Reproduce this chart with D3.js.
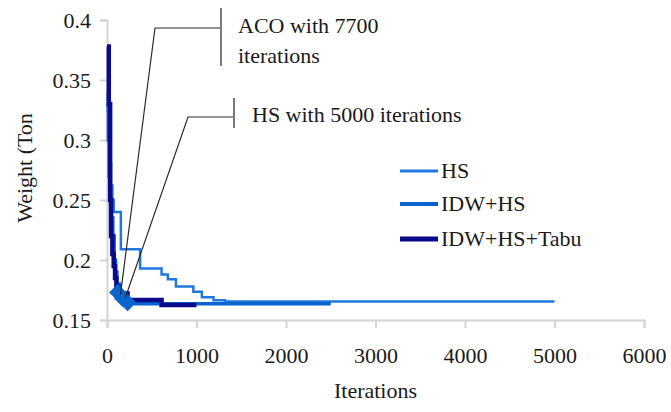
<!DOCTYPE html>
<html>
<head>
<meta charset="utf-8">
<script src="https://cdn.jsdelivr.net/npm/d3@7/dist/d3.min.js"></script>
<style>
  html, body { margin: 0; padding: 0; background: #fff; }
  svg { display: block; font-family: "Liberation Serif", "Times New Roman", serif; }
</style>
</head>
<body>
<svg id="chart" width="671" height="412"></svg>
<script>
// ---- data ----
const xTicks = [0, 1000, 2000, 3000, 4000, 5000, 6000];
const yTicks = [0.15, 0.2, 0.25, 0.3, 0.35, 0.4];
const seriesNames = ["HS", "IDW+HS", "IDW+HS+Tabu"];
const seriesColors = ["#1f78e0", "#0b63cc", "#0a0a8a"];

// [iteration, weight]
const hsData = [
  [0, 0.34], [10, 0.325], [20, 0.30], [30, 0.28], [45, 0.262], [60, 0.25],
  [75, 0.24], [155, 0.209], [370, 0.193], [610, 0.188], [680, 0.184],
  [770, 0.178], [965, 0.1735], [1060, 0.169], [1190, 0.1665], [1320, 0.1655],
  [5000, 0.1655]
];
const idwHsData = [
  [0, 0.33], [15, 0.30], [25, 0.27], [35, 0.25], [50, 0.235], [65, 0.22],
  [80, 0.20], [95, 0.19], [110, 0.18], [140, 0.172], [200, 0.1635], [2500, 0.1635]
];
const tabuData = [
  [0, 0.378], [20, 0.33], [35, 0.25], [45, 0.22], [60, 0.205], [75, 0.195],
  [90, 0.185], [105, 0.178], [125, 0.172], [230, 0.1667], [610, 0.1625], [1000, 0.1625]
];
const markerData = [[120, 0.173], [175, 0.168], [230, 0.1645]];

const annotations = [
  { lines: ["ACO with 7700", "iterations"], anchor: [150, 0.171] },
  { lines: ["HS with 5000 iterations"], anchor: [205, 0.1685] }
];

// ---- layout ----
const svg = d3.select("#chart");
const x = d3.scaleLinear().domain([0, 6000]).range([107, 644]);
const y = d3.scaleLinear().domain([0.15, 0.4]).range([320, 20]);
const axisColor = "#d4d4d4";
const fontSize = 22;

// axes
const gx = svg.append("g").attr("transform", `translate(0,${y(0.15)})`)
  .call(d3.axisBottom(x).tickValues(xTicks).tickSize(8).tickPadding(19).tickFormat(d3.format("d")));
const gy = svg.append("g").attr("transform", `translate(${x(0)},0)`)
  .call(d3.axisLeft(y).tickValues(yTicks).tickSize(7).tickPadding(9).tickFormat(d => String(+d.toFixed(2))));
[gx, gy].forEach(g => {
  g.select(".domain").attr("stroke", axisColor).attr("stroke-width", 2);
  g.selectAll(".tick line").attr("stroke", axisColor).attr("stroke-width", 2);
  g.selectAll(".tick text").attr("fill", "#1a1a1a").style("font-size", fontSize + "px")
    .style("font-family", "'Liberation Serif', serif");
});

// axis titles
svg.append("text").attr("x", (x(0) + x(6000)) / 2).attr("y", 398)
  .attr("text-anchor", "middle").attr("fill", "#1a1a1a").style("font-size", fontSize + "px")
  .text("Iterations");
svg.append("text").attr("transform", `translate(32,${168}) rotate(-90)`)
  .attr("text-anchor", "middle").attr("fill", "#1a1a1a").style("font-size", fontSize + "px")
  .text("Weight (Ton");

// lines
const line = d3.line().x(d => x(d[0])).y(d => y(d[1])).curve(d3.curveStepAfter);
const allSeries = [hsData, idwHsData, tabuData];
const widths = [2.5, 3.5, 4.5];
allSeries.forEach((data, i) => {
  svg.append("path").datum(data).attr("d", line)
    .attr("fill", "none").attr("stroke", seriesColors[i])
    .attr("stroke-width", widths[i]).attr("stroke-linejoin", "miter");
});

// diamond markers
svg.selectAll(".mk").data(markerData).enter().append("path")
  .attr("transform", d => `translate(${x(d[0])},${y(d[1])})`)
  .attr("d", d3.symbol(d3.symbolDiamond2, 190))
  .attr("fill", seriesColors[1]);

// annotations (callouts)
const callouts = [
  { elbow: [155, 28], bar: [221, 8, 66], text: [238, 33], lh: 30 },
  { elbow: [188, 117], bar: [234, 98, 128], text: [252, 122], lh: 30 }
];
annotations.forEach((a, i) => {
  const c = callouts[i];
  const ax = x(a.anchor[0]), ay = y(a.anchor[1]);
  svg.append("path")
    .attr("d", `M${ax},${ay}L${c.elbow[0]},${c.elbow[1]}L${c.bar[0]},${c.elbow[1]}`)
    .attr("fill", "none").attr("stroke", "#2a2a2a").attr("stroke-width", 1.2);
  svg.append("line").attr("x1", c.bar[0]).attr("x2", c.bar[0]).attr("y1", c.bar[1]).attr("y2", c.bar[2])
    .attr("stroke", "#7a7a7a").attr("stroke-width", 2);
  const t = svg.append("text").attr("x", c.text[0]).attr("y", c.text[1])
    .attr("fill", "#1a1a1a").style("font-size", fontSize + "px");
  a.lines.forEach((s, k) => t.append("tspan").attr("x", c.text[0]).attr("y", c.text[1] + k * c.lh).text(s));
});

// legend
const legY = [171, 204, 239];
seriesNames.forEach((name, i) => {
  svg.append("line").attr("x1", 400).attr("x2", 438).attr("y1", legY[i]).attr("y2", legY[i])
    .attr("stroke", seriesColors[i]).attr("stroke-width", widths[i] + 0.5);
  svg.append("text").attr("x", 441).attr("y", legY[i] + 7)
    .attr("fill", "#1a1a1a").style("font-size", fontSize + "px").text(name);
});
</script>
</body>
</html>
